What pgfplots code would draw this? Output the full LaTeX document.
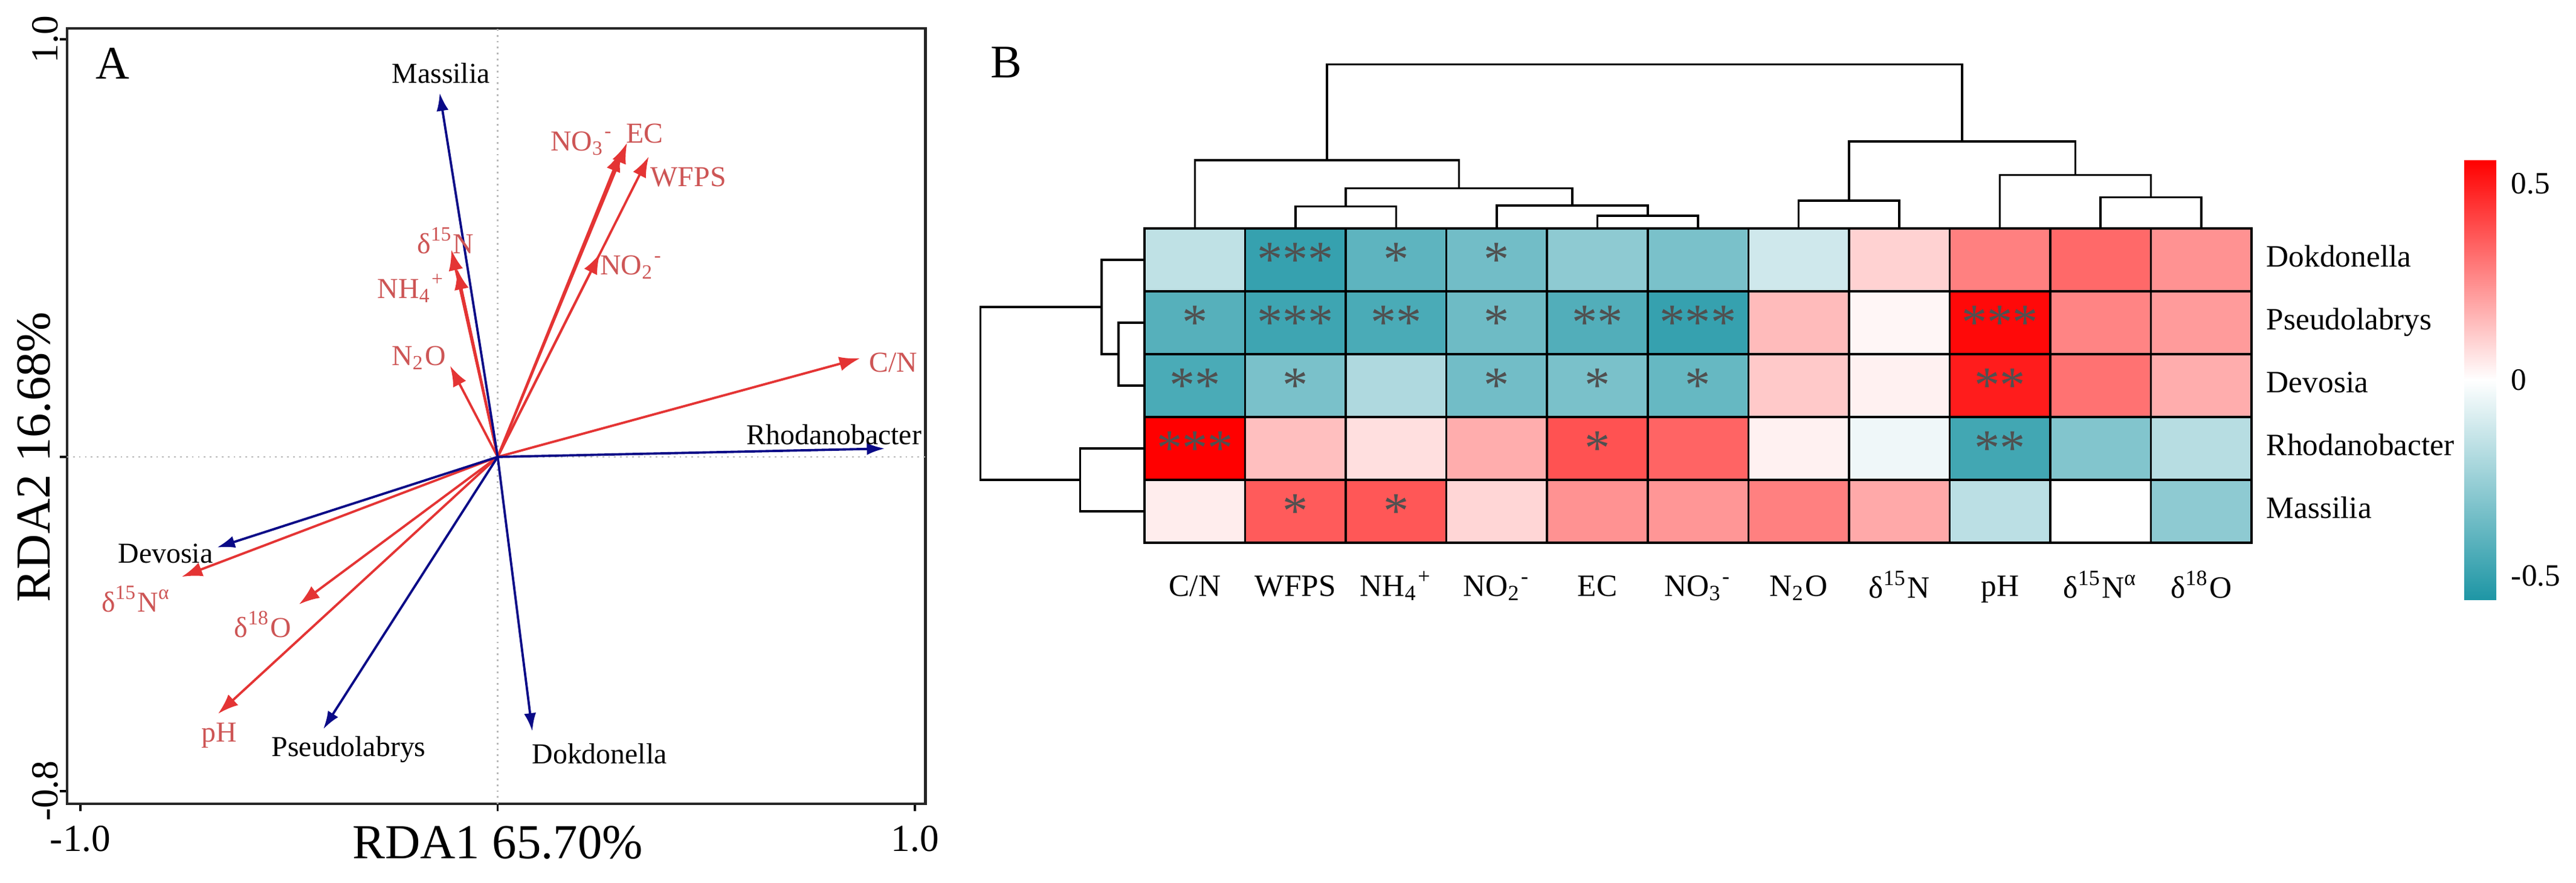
\documentclass[border=0pt]{standalone}
\usepackage{fontspec}
\setmainfont{Liberation Serif}
\usepackage{pgfplots}
\usepackage{pgfplotstable}
\pgfplotsset{compat=1.18}
\usetikzlibrary{arrows.meta}

\definecolor{envred}{RGB}{228,52,52}
\definecolor{envtxt}{RGB}{205,85,85}
\definecolor{spblue}{RGB}{10,10,135}
\definecolor{astgray}{RGB}{80,80,80}

\newcommand\lab{\fontsize{6.8}{8}\selectfont}
\newcommand\hlab{\fontsize{7.3}{8.5}\selectfont}
\newcommand\astfont{\fontsize{12}{12}\selectfont}

\tikzset{
  env/.style={envred, line width=0.55pt, -{Latex[length=1.7mm,width=1.2mm]}},
  sp/.style={spblue, line width=0.55pt, -{Latex[length=1.5mm,width=1.0mm]}},
  dend/.style={black, line width=0.5pt},
  sig/.style={font=\astfont, text=astgray},
}

% correlation of genera (rows) with soil variables (columns)
% rows: 0 Dokdonella, 1 Pseudolabrys, 2 Devosia, 3 Rhodanobacter, 4 Massilia
\pgfplotstableread{
x y c
0 0 -0.16
1 0 -0.50
2 0 -0.40
3 0 -0.35
4 0 -0.28
5 0 -0.33
6 0 -0.12
7 0 0.10
8 0 0.28
9 0 0.33
10 0 0.24
0 1 -0.42
1 1 -0.48
2 1 -0.45
3 1 -0.36
4 1 -0.43
5 1 -0.50
6 1 0.15
7 1 0.02
8 1 0.54
9 1 0.27
10 1 0.22
0 2 -0.45
1 2 -0.33
2 2 -0.20
3 2 -0.35
4 2 -0.33
5 2 -0.38
6 2 0.12
7 2 0.03
8 2 0.50
9 2 0.31
10 2 0.18
0 3 0.56
1 3 0.14
2 3 0.07
3 3 0.18
4 3 0.38
5 3 0.34
6 3 0.03
7 3 -0.04
8 3 -0.47
9 3 -0.31
10 3 -0.18
0 4 0.04
1 4 0.36
2 4 0.37
3 4 0.09
4 4 0.24
5 4 0.23
6 4 0.28
7 4 0.19
8 4 -0.17
9 4 0.00
10 4 -0.28
}\heat

\begin{document}
\begin{tikzpicture}
\useasboundingbox (0,0) rectangle (21.315,7.3);

% ---------------- A: RDA biplot ----------------
\begin{axis}[
  at={(0.555cm,0.65cm)}, anchor=south west,
  scale only axis, width=7.1025cm, height=6.415cm,
  xmin=-1.0319, xmax=1.0251, ymin=-0.8307, ymax=1.026,
  axis line style={black!85, line width=0.6pt},
  xtick={-1,0,1},
  xticklabels={-1.0,{\fontsize{11.5}{13}\selectfont RDA1 65.70\%},1.0},
  ytick={-0.8,0,1},
  yticklabels={-0.8,{\fontsize{11.5}{13}\selectfont\raisebox{0.7mm}{RDA2 16.68\%}},1.0},
  yticklabel style={rotate=90, anchor=south},
  yticklabel shift=-1.1mm,
  tick label style={font=\fontsize{9}{10}\selectfont},
  tick align=outside, tick pos=left, major tick length=0.6mm,
  tick style={black, line width=0.5pt},
  clip=false,
]
\draw[gray!55, densely dotted, line width=0.4pt] (axis cs:0,-0.8307) -- (axis cs:0,1.026);
\draw[gray!55, densely dotted, line width=0.4pt] (axis cs:-1.0319,0) -- (axis cs:1.0251,0);

% environmental variables
\addplot[env] coordinates {(0,0) (0.868,0.236)};
\addplot[env] coordinates {(0,0) (0.362,0.719)};
\addplot[env] coordinates {(0,0) (0.310,0.752)};
\addplot[env] coordinates {(0,0) (0.296,0.732)};
\addplot[env] coordinates {(0,0) (0.245,0.487)};
\addplot[env] coordinates {(0,0) (-0.111,0.496)};
\addplot[env] coordinates {(0,0) (-0.097,0.450)};
\addplot[env] coordinates {(0,0) (-0.114,0.218)};
\addplot[env] coordinates {(0,0) (-0.757,-0.287)};
\addplot[env] coordinates {(0,0) (-0.476,-0.353)};
\addplot[env] coordinates {(0,0) (-0.670,-0.615)};

% genera
\addplot[sp] coordinates {(0,0) (-0.139,0.872)};
\addplot[sp] coordinates {(0,0) (0.928,0.020)};
\addplot[sp] coordinates {(0,0) (-0.673,-0.217)};
\addplot[sp] coordinates {(0,0) (-0.418,-0.652)};
\addplot[sp] coordinates {(0,0) (0.083,-0.657)};

\node[font=\lab, text=envtxt] at (axis cs:0.948,0.226) {C/N};
\node[font=\lab, text=envtxt] at (axis cs:0.457,0.670) {WFPS};
\node[font=\lab, text=envtxt] at (axis cs:0.352,0.775) {EC};
\node[font=\lab, text=envtxt] at (axis cs:0.202,0.751) {NO\textsubscript{3}\textsuperscript{-}};
\node[font=\lab, text=envtxt] at (axis cs:0.321,0.454) {NO\textsubscript{2}\textsuperscript{-}};
\node[font=\lab, text=envtxt] at (axis cs:-0.125,0.518) {δ\textsuperscript{15}N};
\node[font=\lab, text=envtxt] at (axis cs:-0.207,0.404) {NH\textsubscript{4}\textsuperscript{+}};
\node[font=\lab, text=envtxt] at (axis cs:-0.189,0.237) {N\textsubscript{2}O};
\node[font=\lab, text=envtxt] at (axis cs:-0.866,-0.340) {δ\textsuperscript{15}N\textsuperscript{α}};
\node[font=\lab, text=envtxt] at (axis cs:-0.563,-0.401) {δ\textsuperscript{18}O};
\node[font=\lab, text=envtxt] at (axis cs:-0.667,-0.667) {pH};

\node[font=\lab] at (axis cs:-0.136,0.919) {Massilia};
\node[font=\lab] at (axis cs:0.806,0.053) {Rhodanobacter};
\node[font=\lab] at (axis cs:-0.796,-0.231) {Devosia};
\node[font=\lab] at (axis cs:-0.357,-0.700) {Pseudolabrys};
\node[font=\lab] at (axis cs:0.244,-0.711) {Dokdonella};

\node[font=\fontsize{11}{13}\selectfont] at (axis cs:-0.922,0.942) {A};
\end{axis}

% ---------------- B: heatmap ----------------
\begin{axis}[
  at={(9.47cm,2.81cm)}, anchor=south west,
  scale only axis, width=9.16cm, height=2.6cm,
  xmin=-0.5, xmax=10.5, ymin=-0.5, ymax=4.5, y dir=reverse,
  clip=false, axis on top,
  axis line style={black, line width=0.6pt},
  xtick={0,...,10},
  xticklabels={C/N, WFPS, NH\textsubscript{4}\textsuperscript{+}, NO\textsubscript{2}\textsuperscript{-}, EC,
    NO\textsubscript{3}\textsuperscript{-}, N\textsubscript{2}O, δ\textsuperscript{15}N, pH,
    δ\textsuperscript{15}N\textsuperscript{α}, δ\textsuperscript{18}O},
  ytick={0,...,4},
  yticklabels={Dokdonella, Pseudolabrys, Devosia, Rhodanobacter, Massilia},
  yticklabel pos=right,
  typeset ticklabels with strut,
  xticklabel style={yshift=-1.1mm},
  tick label style={font=\hlab},
  minor xtick={0.5,1.5,...,9.5}, minor ytick={0.5,1.5,2.5,3.5},
  xminorgrids, yminorgrids,
  minor grid style={black, line width=0.5pt},
  major tick length=0, minor tick length=0,
  colormap={tealred}{rgb255=(30,150,165) rgb255=(255,255,255) rgb255=(255,0,0)},
  point meta min=-0.56, point meta max=0.56,
  colorbar,
  colorbar style={
    at={(parent axis.north east)}, anchor=north west,
    xshift=1.46cm, yshift=0.565cm,
    width=0.265cm, height=3.635cm, y dir=normal,
    ytick={-0.5,0,0.5}, yticklabels={-0.5,0,0.5},
    axis line style={draw=none}, major tick length=0,
    yticklabel style={font=\hlab},
  },
]
\addplot[matrix plot*, mesh/cols=11, point meta=explicit] table[meta=c] {\heat};

% significance marks
\node[sig] at (axis cs:1,0) {***};
\node[sig] at (axis cs:2,0) {*};
\node[sig] at (axis cs:3,0) {*};
\node[sig] at (axis cs:0,1) {*};
\node[sig] at (axis cs:1,1) {***};
\node[sig] at (axis cs:2,1) {**};
\node[sig] at (axis cs:3,1) {*};
\node[sig] at (axis cs:4,1) {**};
\node[sig] at (axis cs:5,1) {***};
\node[sig] at (axis cs:8,1) {***};
\node[sig] at (axis cs:0,2) {**};
\node[sig] at (axis cs:1,2) {*};
\node[sig] at (axis cs:3,2) {*};
\node[sig] at (axis cs:4,2) {*};
\node[sig] at (axis cs:5,2) {*};
\node[sig] at (axis cs:8,2) {**};
\node[sig] at (axis cs:0,3) {***};
\node[sig] at (axis cs:4,3) {*};
\node[sig] at (axis cs:8,3) {**};
\node[sig] at (axis cs:1,4) {*};
\node[sig] at (axis cs:2,4) {*};

% column dendrogram
\addplot[dend] coordinates {(1,-0.5) (1,-0.849) (2,-0.849) (2,-0.5)};
\addplot[dend] coordinates {(4,-0.5) (4,-0.702) (5,-0.702) (5,-0.5)};
\addplot[dend] coordinates {(3,-0.5) (3,-0.865) (4.5,-0.865) (4.5,-0.702)};
\addplot[dend] coordinates {(1.5,-0.849) (1.5,-1.1375) (3.75,-1.1375) (3.75,-0.865)};
\addplot[dend] coordinates {(0,-0.5) (0,-1.587) (2.625,-1.587) (2.625,-1.1375)};
\addplot[dend] coordinates {(6,-0.5) (6,-0.942) (7,-0.942) (7,-0.5)};
\addplot[dend] coordinates {(9,-0.5) (9,-0.994) (10,-0.994) (10,-0.5)};
\addplot[dend] coordinates {(8,-0.5) (8,-1.351) (9.5,-1.351) (9.5,-0.994)};
\addplot[dend] coordinates {(6.5,-0.942) (6.5,-1.885) (8.75,-1.885) (8.75,-1.351)};
\addplot[dend] coordinates {(1.3125,-1.587) (1.3125,-3.111) (7.625,-3.111) (7.625,-1.885)};

% row dendrogram
\addplot[dend] coordinates {(-0.5,1) (-0.757,1) (-0.757,2) (-0.5,2)};
\addplot[dend] coordinates {(-0.5,0) (-0.925,0) (-0.925,1.5) (-0.757,1.5)};
\addplot[dend] coordinates {(-0.5,3) (-1.141,3) (-1.141,4) (-0.5,4)};
\addplot[dend] coordinates {(-0.925,0.75) (-2.13,0.75) (-2.13,3.5) (-1.141,3.5)};
\end{axis}

\node[font=\fontsize{11}{13}\selectfont] at (8.325,6.785) {B};
\end{tikzpicture}
\end{document}
